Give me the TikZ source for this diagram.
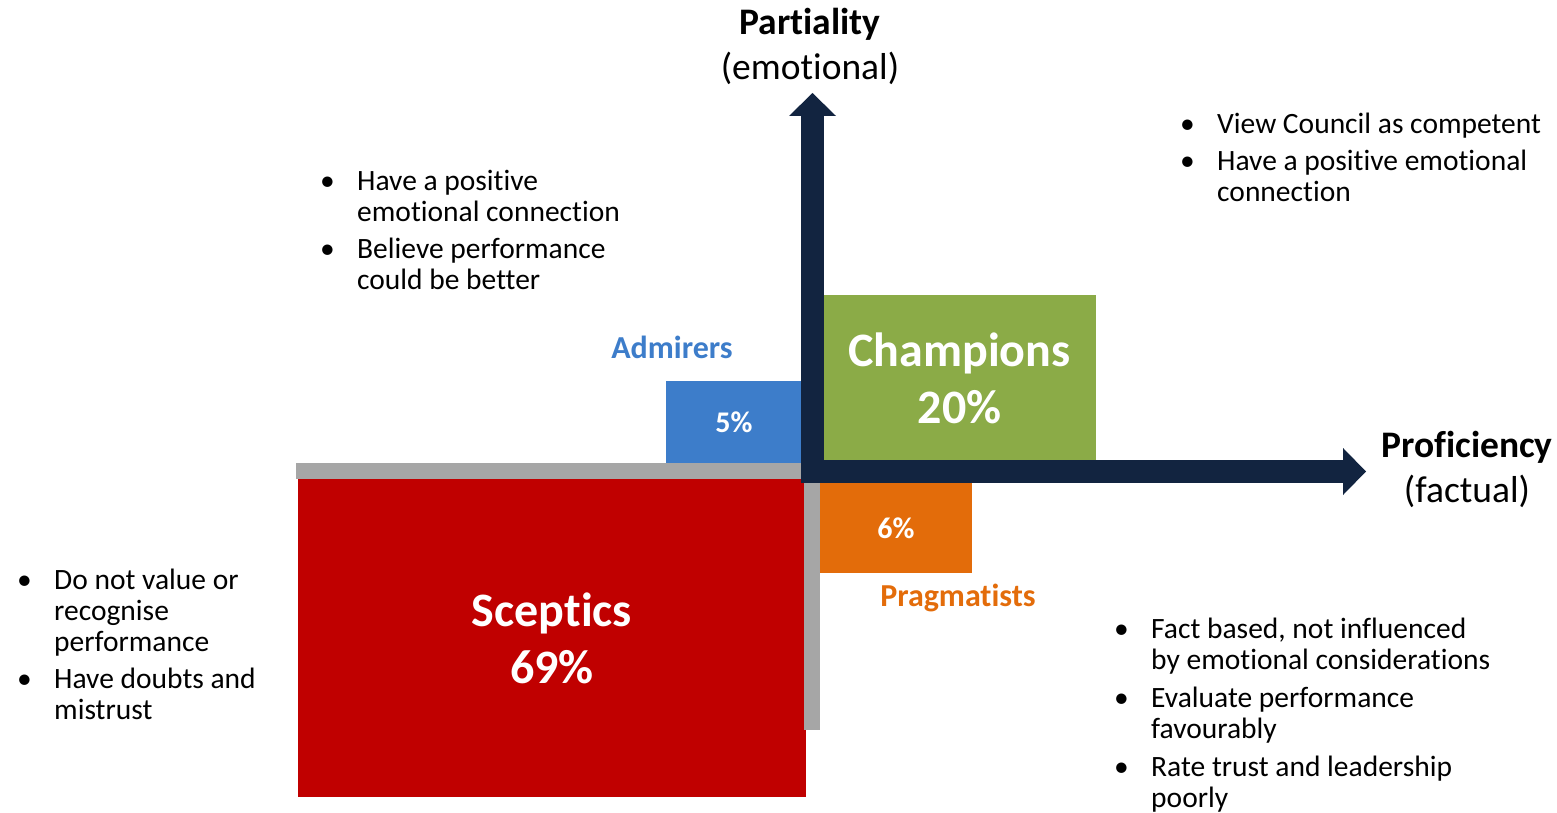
\documentclass[tikz,border=0pt]{standalone}
\usepackage{fontspec}
\setmainfont{Carlito}[Ligatures=NoCommon]
\usetikzlibrary{arrows.meta, positioning}
\definecolor{axisnavy}{RGB}{18, 36, 64}
\definecolor{champgreen}{RGB}{139, 171, 71}
\definecolor{admirerblue}{RGB}{61, 125, 202}
\definecolor{scepticred}{RGB}{192, 0, 0}
\definecolor{pragorange}{RGB}{227, 108, 10}
\definecolor{bargray}{RGB}{166, 166, 166}

\begin{document}
\begin{tikzpicture}[
    x=1pt, y=-1pt,
    quad/.style={rectangle, inner sep=0pt, outer sep=0pt, anchor=north west, text=white,
                 align=center, font=\bfseries\fontsize{30}{34}\selectfont},
    bigquad/.style={quad, font=\bfseries\fontsize{48}{57}\selectfont},
    bar/.style={fill=bargray},
    axislabel/.style={align=center, inner sep=0pt, font=\fontsize{37.5}{45}\selectfont},
    tag/.style={inner sep=0pt, font=\bfseries\fontsize{32}{36}\selectfont},
    bullets/.style={anchor=base west, inner sep=0pt, font=\fontsize{29.5}{31}\selectfont},
    axis/.style={line width=23pt, axisnavy, line join=miter,
                 arrows={Triangle[width=47pt, length=23pt, line width=0pt]-Triangle[width=47pt, length=23pt, line width=0pt]}}
]
\useasboundingbox (0,0) rectangle (1557,813);

% Quadrant boxes
\fill[bar] (296,463) rectangle (801,479);
\node[bigquad, fill=scepticred, minimum width=508pt, minimum height=318pt] (sceptics) at (298,479) {Sceptics\\69\%};
\fill[bar] (804,483) rectangle (820,730);
\node[quad, fill=admirerblue, minimum width=136pt, minimum height=82pt] (admirers) at (666,381) {5\%};
\node[bigquad, fill=champgreen, minimum width=273pt, minimum height=167pt] (champions) at (823,295) {Champions\\20\%};
\node[quad, fill=pragorange, minimum width=152pt, minimum height=90pt] (pragmatists) at (820,483) {6\%};

% Axes
\coordinate (origin) at (812.5,471.5);
\coordinate (ytip) at (812.5,93);
\coordinate (xtip) at (1366,471.5);
\draw[axis] (ytip) -- (origin) -- (xtip);

% Axis labels
\node[axislabel] (partiality) at (810,46) {\textbf{Partiality}\\(emotional)};
\node[axislabel] (proficiency) at (1467,469) {\textbf{Proficiency}\\(factual)};

% Group names
\node[tag, text=admirerblue] (admirertag) at (672,347) {Admirers};
\node[tag, text=pragorange] (pragtag) at (958,598) {Pragmatists};

% Descriptions
\node[bullets] (admirerpoints) at (320,190) {\begin{tabular}[t]{@{}p{37pt}@{}l@{}}
\textbullet & Have a positive\\
 & emotional connection\\[6pt]
\textbullet & Believe performance\\
 & could be better
\end{tabular}};

\node[bullets] (champpoints) at (1180,134) {\begin{tabular}[t]{@{}p{37pt}@{}l@{}}
\textbullet & View Council as competent\\[6pt]
\textbullet & Have a positive emotional\\
 & connection
\end{tabular}};

\node[bullets] (scepticpoints) at (17,589) {\begin{tabular}[t]{@{}p{37pt}@{}l@{}}
\textbullet & Do not value or\\
 & recognise\\
 & performance\\[6pt]
\textbullet & Have doubts and\\
 & mistrust
\end{tabular}};

\node[bullets] (pragpoints) at (1114,638) {\begin{tabular}[t]{@{}p{37pt}@{}l@{}}
\textbullet & Fact based, not influenced\\
 & by emotional considerations\\[7pt]
\textbullet & Evaluate performance\\
 & favourably\\[7pt]
\textbullet & Rate trust and leadership\\
 & poorly
\end{tabular}};

\end{tikzpicture}
\end{document}
